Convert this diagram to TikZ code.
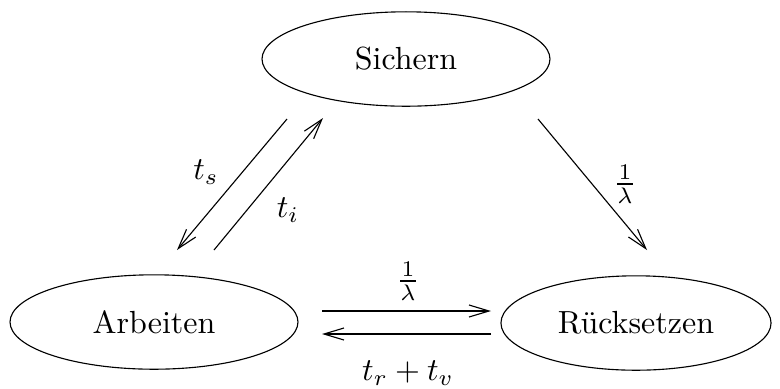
\documentclass[tikz,border=0pt]{standalone}
\usetikzlibrary{shapes.geometric,arrows.meta}
\begin{document}
\begin{tikzpicture}[x=0.3125pt,y=-0.3125pt,
  state/.style={draw,ellipse,line width=0.35pt,inner sep=0pt,minimum height=29.5pt},
  conn/.style={line width=0.35pt,-{Straight Barb[length=6.25pt,width=3.75pt]}},
  lbl/.style={inner sep=0pt}]
\useasboundingbox (0,0) rectangle (780,388);
\node[state,minimum width=90pt] (S) at (406,59) {Sichern};
\node[state,minimum width=90pt] (A) at (154,322) {Arbeiten};
\node[state,minimum width=84.4pt] (R) at (636,323) {Rücksetzen};
\coordinate (s1) at (287,119);
\coordinate (s2) at (177,250);
\coordinate (i1) at (214,250);
\coordinate (i2) at (323,118);
\coordinate (r1) at (538,119);
\coordinate (r2) at (647,250);
\coordinate (h1) at (322,311);
\coordinate (h2) at (491,311);
\coordinate (b1) at (491,334);
\coordinate (b2) at (322,334);
\draw[conn] (s1) -- (s2);
\draw[conn] (i1) -- (i2);
\draw[conn] (r1) -- (r2);
\draw[conn] (h1) -- (h2);
\draw[conn] (b1) -- (b2);
\node[lbl] (ls) at (206,172) {$t_s$};
\node[lbl] (li) at (288,210) {$t_i$};
\node[lbl] (lr) at (625,184) {$\frac{1}{\lambda}$};
\node[lbl] (lh) at (408,281) {$\frac{1}{\lambda}$};
\node[lbl] (lb) at (408,373) {$t_r + t_v$};
\end{tikzpicture}
\end{document}
